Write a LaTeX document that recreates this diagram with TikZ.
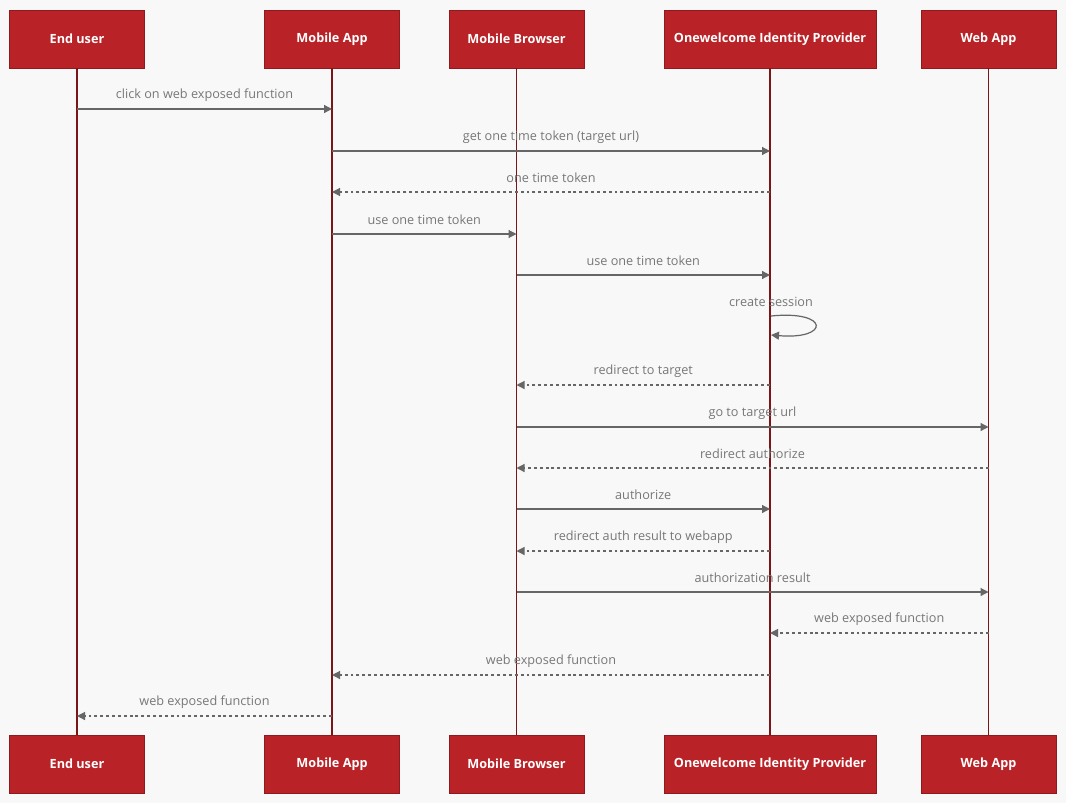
\documentclass[tikz,border=0pt]{standalone}
\usepackage{fontspec}
\setmainfont{Open Sans}
\usetikzlibrary{arrows.meta}
\definecolor{boxfill}{HTML}{B92226}
\definecolor{boxline}{HTML}{8E1A1D}
\definecolor{life}{HTML}{7A1518}
\definecolor{arr}{HTML}{666666}
\definecolor{txt}{HTML}{777777}
\definecolor{bg}{HTML}{F8F8F8}
\begin{document}
\begin{tikzpicture}[x=0.75pt,y=-0.75pt,
 actor/.style={draw=boxline,fill=boxfill,text=white,minimum height=43.5pt,inner sep=0pt,font=\fontsize{9.5}{11}\selectfont\bfseries},
 msg/.style={draw=arr,line width=0.9pt,-{Triangle[length=6pt,width=6pt]}},
 ret/.style={msg,dash pattern=on 2.2pt off 2.2pt},
 lbl/.style={text=txt,font=\fontsize{9.5}{11}\selectfont,inner sep=0pt},
 ll/.style={draw=life,line width=1.2pt}]
\fill[bg] (0,0) rectangle (1066,803);
\useasboundingbox (0,0) rectangle (1066,803);
\foreach \n/\x/\w/\t in {eu/77/135/End user,ma/332/135/Mobile App,mb/516.5/135/Mobile Browser,idp/770/212/Onewelcome Identity Provider,wa/988.5/135/Web App}{
  \node[actor,minimum width=\w*0.75pt] (\n t) at (\x,39) {\t};
  \node[actor,minimum width=\w*0.75pt] (\n b) at (\x,764) {\t};
  \draw[ll] (\n t) -- (\n b);
}
\foreach \y/\a/\b/\s/\t in {
 109/eu/ma/msg/click on web exposed function,
 151/ma/idp/msg/get one time token (target url),
 192/idp/ma/ret/one time token,
 234/ma/mb/msg/use one time token,
 275/mb/idp/msg/use one time token,
 385/idp/mb/ret/redirect to target,
 427/mb/wa/msg/go to target url,
 468/wa/mb/ret/redirect authorize,
 509/mb/idp/msg/authorize,
 551/idp/mb/ret/redirect auth result to webapp,
 592/mb/wa/msg/authorization result,
 633/wa/idp/ret/web exposed function,
 675/idp/ma/ret/web exposed function,
 716/ma/eu/ret/web exposed function}{
  \coordinate (s) at (\a t.center |- 0,\y);
  \coordinate (e) at (\b t.center |- 0,\y);
  \draw[\s] (s) -- (e);
  \path (s) -- node[lbl,pos=0.5,yshift=10.5pt]{\t} (e);
}
\coordinate (l1) at (771,316);
\coordinate (l2) at (771,335);
\draw[msg] (l1) .. controls (830,310) and (830,340) .. (l2);
\node[lbl] (cs) at (771,302) {create session};
\end{tikzpicture}
\end{document}
